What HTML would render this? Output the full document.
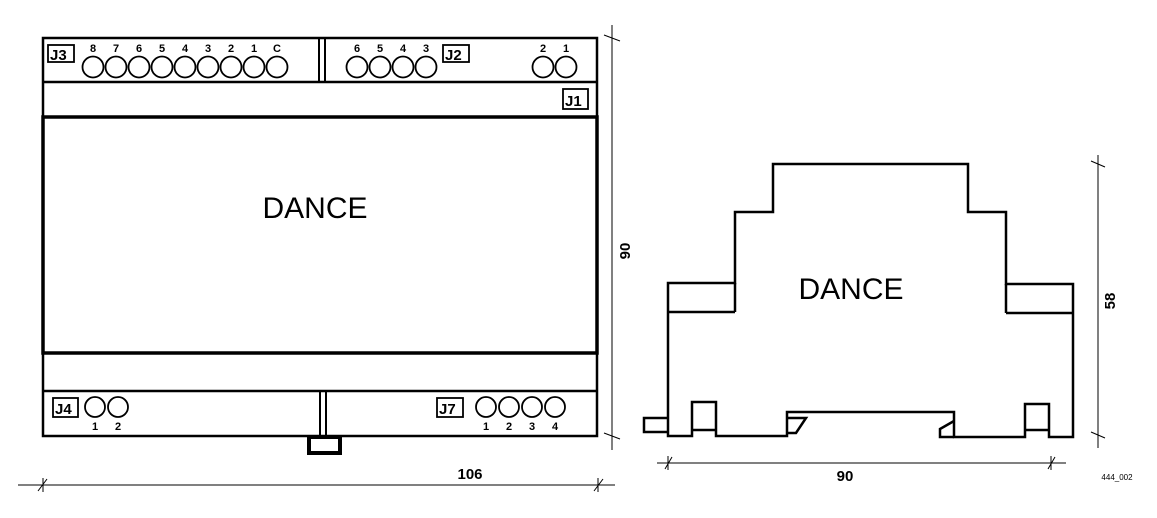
<!DOCTYPE html>
<html><head><meta charset="utf-8"><style>
html,body{margin:0;padding:0;background:#fff;}
svg{display:block;}
text{font-family:"Liberation Sans",sans-serif;fill:#000;}
.b{font-weight:bold;font-size:11px;text-anchor:middle;}
.lab{font-weight:bold;font-size:15px;}
</style></head><body>
<svg width="1157" height="518" viewBox="0 0 1157 518" xmlns="http://www.w3.org/2000/svg">
<g fill="none" stroke="#000" stroke-width="2.5">
  <!-- left front view -->
  <rect x="43" y="38" width="554" height="398"/>
  <line x1="43" y1="82" x2="597" y2="82"/>
  <rect x="43" y="117" width="554" height="236" stroke-width="3.5"/>
  <line x1="43" y1="391" x2="597" y2="391"/>
  <line x1="319" y1="38" x2="319" y2="82" stroke-width="2"/>
  <line x1="325" y1="38" x2="325" y2="82" stroke-width="2"/>
  <line x1="320" y1="391" x2="320" y2="436" stroke-width="2"/>
  <line x1="326" y1="391" x2="326" y2="436" stroke-width="2"/>
  <rect x="309" y="437" width="31" height="16" stroke-width="4"/>
  <!-- J3 circles -->
  <g stroke-width="1.8">
    <circle cx="93" cy="67" r="10.5"/><circle cx="116" cy="67" r="10.5"/><circle cx="139" cy="67" r="10.5"/>
    <circle cx="162" cy="67" r="10.5"/><circle cx="185" cy="67" r="10.5"/><circle cx="208" cy="67" r="10.5"/>
    <circle cx="231" cy="67" r="10.5"/><circle cx="254" cy="67" r="10.5"/><circle cx="277" cy="67" r="10.5"/>
    <circle cx="357" cy="67" r="10.5"/><circle cx="380" cy="67" r="10.5"/><circle cx="403" cy="67" r="10.5"/><circle cx="426" cy="67" r="10.5"/>
    <circle cx="543" cy="67" r="10.5"/><circle cx="566" cy="67" r="10.5"/>
    <circle cx="95" cy="407" r="10"/><circle cx="118" cy="407" r="10"/>
    <circle cx="486" cy="407" r="10"/><circle cx="509" cy="407" r="10"/><circle cx="532" cy="407" r="10"/><circle cx="555" cy="407" r="10"/>
    <rect x="48" y="45" width="26" height="17"/>
    <rect x="443" y="45" width="26" height="17"/>
    <rect x="563" y="89" width="25" height="20"/>
    <rect x="53" y="398" width="25" height="19"/>
    <rect x="437" y="398" width="26" height="19"/>
  </g>
  <!-- right side view -->
  <path d="M668 436 V283 H735 V212 H773 V164 H968 V212 H1006 V284 H1073 V437 H1049 V404 H1025 V437 H954 V412 H787 V436 H716 V402 H692 V436 Z"/>
  <line x1="668" y1="312" x2="735" y2="312"/>
  <line x1="735" y1="283" x2="735" y2="312"/>
  <line x1="1006" y1="313" x2="1073" y2="313"/>
  <line x1="1006" y1="284" x2="1006" y2="313"/>
  <line x1="692" y1="430" x2="716" y2="430"/>
  <line x1="1025" y1="430" x2="1049" y2="430"/>
  <path d="M668 418 H644 V432 H668"/>
  <path d="M787 418 H806 L796 433 H787"/>
  <path d="M954 421 L940 429 V437 H954"/>
</g>
<!-- dimension lines -->
<g stroke="#000" stroke-width="1" fill="none">
  <line x1="18" y1="485" x2="615" y2="485"/>
  <line x1="38" y1="491" x2="47" y2="479"/><line x1="43" y1="478" x2="43" y2="492"/>
  <line x1="594" y1="491" x2="603" y2="479"/><line x1="598" y1="478" x2="598" y2="492"/>
  <line x1="612" y1="25" x2="612" y2="450"/>
  <line x1="604" y1="35" x2="620" y2="41"/><line x1="604" y1="433" x2="620" y2="439"/>
  <line x1="657" y1="463" x2="1066" y2="463"/>
  <line x1="665" y1="469" x2="672" y2="457"/><line x1="668" y1="456" x2="668" y2="470"/>
  <line x1="1048" y1="469" x2="1055" y2="457"/><line x1="1051" y1="456" x2="1051" y2="470"/>
  <line x1="1098" y1="155" x2="1098" y2="448"/>
  <line x1="1091" y1="161" x2="1105" y2="167"/><line x1="1091" y1="432" x2="1105" y2="438"/>
</g>
<!-- labels -->
<g class="b">
  <text x="93" y="52">8</text><text x="116" y="52">7</text><text x="139" y="52">6</text><text x="162" y="52">5</text>
  <text x="185" y="52">4</text><text x="208" y="52">3</text><text x="231" y="52">2</text><text x="254" y="52">1</text><text x="277" y="52">C</text>
  <text x="357" y="52">6</text><text x="380" y="52">5</text><text x="403" y="52">4</text><text x="426" y="52">3</text>
  <text x="543" y="52">2</text><text x="566" y="52">1</text>
  <text x="95" y="430">1</text><text x="118" y="430">2</text>
  <text x="486" y="430">1</text><text x="509" y="430">2</text><text x="532" y="430">3</text><text x="555" y="430">4</text>
</g>
<text class="lab" x="50" y="60">J3</text>
<text class="lab" x="445" y="60">J2</text>
<text class="lab" x="565" y="106">J1</text>
<text class="lab" x="55" y="414">J4</text>
<text class="lab" x="439" y="414">J7</text>
<text x="315" y="218" font-size="30" text-anchor="middle">DANCE</text>
<text x="851" y="299" font-size="30" text-anchor="middle">DANCE</text>
<text x="470" y="479" font-size="15" font-weight="bold" text-anchor="middle">106</text>
<text x="845" y="481" font-size="15" font-weight="bold" text-anchor="middle">90</text>
<text transform="translate(630,251) rotate(-90)" font-size="15" font-weight="bold" text-anchor="middle">90</text>
<text transform="translate(1115,301) rotate(-90)" font-size="15" font-weight="bold" text-anchor="middle">58</text>
<text x="1117" y="480" font-size="8" text-anchor="middle">444_002</text>
</svg>
</body></html>
